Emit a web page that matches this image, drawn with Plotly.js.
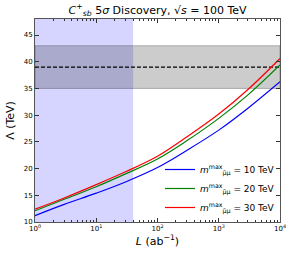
<!DOCTYPE html>
<html><head><meta charset="utf-8">
<script src="https://cdn.plot.ly/plotly-3.0.1.min.js"></script>
<style>body{margin:0;padding:0;background:#fff}#c{width:306px;height:255px}</style>
</head><body><div id="c"></div>
<script>
const L = [1, 3, 10, 30, 100, 300, 1000, 3000, 10000];
const lam10 = [11.2, 13.3, 15.4, 17.5, 20.2, 23.4, 27.2, 31.3, 36.25];
const lam20 = [12.1, 14.25, 16.6, 19.0, 21.8, 25.2, 29.4, 33.8, 39.4];
const lam30 = [12.4, 14.5, 17.0, 19.4, 22.3, 25.9, 30.2, 34.8, 40.6];
const seriesNames = ['<i>m</i><sup>max</sup><sub>μ̄μ</sub> = 10 TeV', '<i>m</i><sup>max</sup><sub>μ̄μ</sub> = 20 TeV', '<i>m</i><sup>max</sup><sub>μ̄μ</sub> = 30 TeV'];
const lumiLimit = [1, 40];
const bandLow = 35, bandHigh = 43, bandCentral = 39;
const xRange = [1, 10000], yRange = [10, 48];
const xTickVals = [1, 10, 100, 1000, 10000];
const xTickText = ['10<sup>0</sup>', '10<sup>1</sup>', '10<sup>2</sup>', '10<sup>3</sup>', '10<sup>4</sup>'];
const yTickVals = [10, 15, 20, 25, 30, 35, 40, 45];

const minor = [];
for (let d = 1; d < 10000; d *= 10) for (let k = 2; k <= 9; k++) minor.push(d * k);

const traces = [
  {x: [lumiLimit[0], lumiLimit[1], lumiLimit[1], lumiLimit[0]], y: [yRange[0], yRange[0], yRange[1], yRange[1]],
   fill: 'toself', fillcolor: 'rgba(0,0,255,0.165)', line: {width: 0}, mode: 'lines', showlegend: false, hoverinfo: 'skip'},
  {x: [xRange[0], xRange[1], xRange[1], xRange[0], xRange[0]], y: [bandLow, bandLow, bandHigh, bandHigh, bandLow],
   fill: 'toself', fillcolor: 'rgba(0,0,0,0.2)', line: {width: 1, color: 'rgba(0,0,0,0.25)'}, mode: 'lines', showlegend: false, hoverinfo: 'skip'},
  {x: xRange, y: [bandCentral, bandCentral], mode: 'lines', line: {color: 'black', width: 1.1, dash: '4px,2px'}, showlegend: false},
  {x: L, y: lam10, name: seriesNames[0], mode: 'lines', line: {color: '#0000ff', width: 1.2, shape: 'spline'}},
  {x: L, y: lam20, name: seriesNames[1], mode: 'lines', line: {color: '#008000', width: 1.2, shape: 'spline'}},
  {x: L, y: lam30, name: seriesNames[2], mode: 'lines', line: {color: '#ff0000', width: 1.2, shape: 'spline'}}
];

const layout = {
  width: 306, height: 255,
  margin: {l: 35, r: 26, t: 19, b: 33},
  paper_bgcolor: 'white', plot_bgcolor: 'white',
  font: {family: 'DejaVu Sans', size: 7, color: 'black'},
  title: {text: '<i>C</i><sup>+</sup><sub><i>sb</i></sub> 5<i>σ</i> Discovery, √<i>s</i> = 100 TeV', font: {size: 11}, x: 0.515, xanchor: 'center', y: 0.975, yanchor: 'top'},
  xaxis: {type: 'log', range: [Math.log10(xRange[0]), Math.log10(xRange[1])],
    tickvals: xTickVals, ticktext: xTickText, ticks: 'inside', ticklen: 4, tickcolor: '#333',
    mirror: 'ticks', showline: true, linecolor: '#555', linewidth: 1, showgrid: false, zeroline: false,
    minor: {tickvals: minor, ticks: 'inside', ticklen: 2, tickcolor: '#333', showgrid: false},
    title: {text: '<i>L</i> (ab<sup>−1</sup>)', font: {size: 11}, standoff: 4}},
  yaxis: {range: yRange, tickvals: yTickVals, ticks: 'inside', ticklen: 4, tickcolor: '#333',
    mirror: 'ticks', showline: true, linecolor: '#555', linewidth: 1, showgrid: false, zeroline: false,
    title: {text: 'Λ (TeV)', font: {size: 11}, standoff: 6}},
  legend: {x: 1.0, y: 0.0, xanchor: 'right', yanchor: 'bottom', bgcolor: 'rgba(255,255,255,0)', font: {size: 9}, tracegroupgap: 0, itemwidth: 30},
  showlegend: true
};
Plotly.newPlot('c', traces, layout, {staticPlot: true, displayModeBar: false});
</script></body></html>
